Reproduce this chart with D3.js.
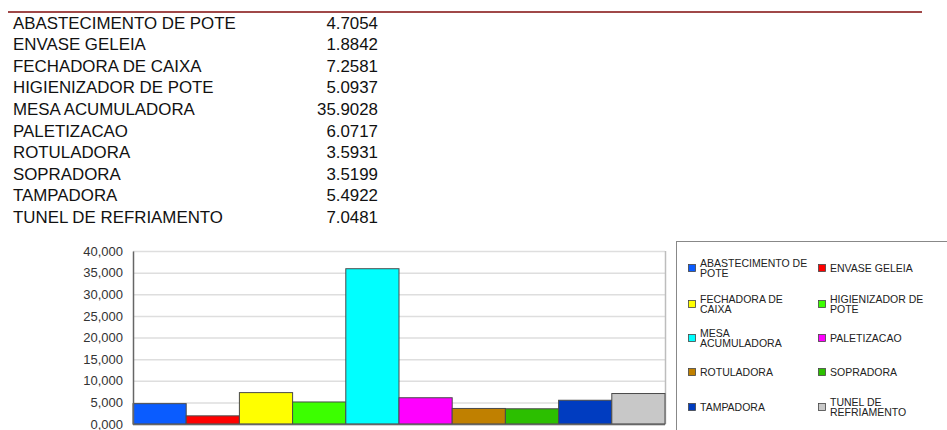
<!DOCTYPE html>
<html>
<head>
<meta charset="utf-8">
<script src="https://cdn.jsdelivr.net/npm/d3@7/dist/d3.min.js"></script>
<style>
  html, body { margin: 0; padding: 0; background: #fff; }
  svg { display: block; font-family: "Liberation Sans", Arial, sans-serif; }
</style>
</head>
<body>
<svg id="chart" width="947" height="430"></svg>
<script>
// Downtime per machine (values in thousands)
const categories = [
  "ABASTECIMENTO DE POTE", "ENVASE GELEIA", "FECHADORA DE CAIXA",
  "HIGIENIZADOR DE POTE", "MESA ACUMULADORA", "PALETIZACAO",
  "ROTULADORA", "SOPRADORA", "TAMPADORA", "TUNEL DE REFRIAMENTO"
];
const values = [4.7054, 1.8842, 7.2581, 5.0937, 35.9028, 6.0717, 3.5931, 3.5199, 5.4922, 7.0481];
const colors = ["#0a5cff", "#ff0000", "#ffff00", "#3cff00", "#00ffff",
                "#ff00ff", "#c08000", "#2cbf00", "#003cc0", "#c8c8c8"];
const yTicks = [0, 5, 10, 15, 20, 25, 30, 35, 40];
// Legend labels wrapped as they appear in the legend box
const legendLines = [
  ["ABASTECIMENTO DE", "POTE"], ["ENVASE GELEIA"],
  ["FECHADORA DE", "CAIXA"], ["HIGIENIZADOR DE", "POTE"],
  ["MESA", "ACUMULADORA"], ["PALETIZACAO"],
  ["ROTULADORA"], ["SOPRADORA"],
  ["TAMPADORA"], ["TUNEL DE", "REFRIAMENTO"]
];

const svg = d3.select("#chart");

// Header rule
svg.append("line")
  .attr("x1", 8).attr("x2", 922).attr("y1", 12).attr("y2", 12)
  .attr("stroke", "#a04848").attr("stroke-width", 2);

// Value table (slightly wide lettering)
const sx = 1.055;
const rowY = d3.scaleBand().domain(categories).range([12, 228]);
const table = svg.append("g").attr("font-size", 16).attr("fill", "#111")
  .attr("transform", `scale(${sx},1)`);
table.selectAll("text.name").data(categories).join("text")
  .attr("class", "name")
  .attr("x", 13 / sx)
  .attr("y", d => rowY(d) + rowY.bandwidth() / 2)
  .attr("dy", "0.36em")
  .text(d => d);
table.selectAll("text.val").data(values).join("text")
  .attr("class", "val")
  .attr("x", 378 / sx)
  .attr("text-anchor", "end")
  .attr("y", (d, i) => rowY(categories[i]) + rowY.bandwidth() / 2)
  .attr("dy", "0.36em")
  .text(d => d.toFixed(4));

// Bar chart
const plot = { left: 133, right: 665, top: 251, bottom: 424 };
const x = d3.scaleBand().domain(categories).range([plot.left, plot.right]).padding(0);
const y = d3.scaleLinear().domain([0, 40]).range([plot.bottom, plot.top]);
const fmt = d => d3.format(",.3f")(d).replace(".", ",");

svg.append("g")
  .selectAll("line").data(yTicks).join("line")
  .attr("x1", plot.left).attr("x2", plot.right)
  .attr("y1", d => y(d) + 0.5).attr("y2", d => y(d) + 0.5)
  .attr("stroke", "#dedede").attr("stroke-width", 1.5);

svg.append("line")
  .attr("x1", plot.right + 0.5).attr("x2", plot.right + 0.5)
  .attr("y1", plot.top).attr("y2", plot.bottom)
  .attr("stroke", "#bdbdbd").attr("stroke-width", 1.5);

svg.append("g")
  .selectAll("rect").data(values).join("rect")
  .attr("x", (d, i) => x(categories[i]))
  .attr("y", d => y(d))
  .attr("width", x.bandwidth())
  .attr("height", d => y(0) - y(d))
  .attr("fill", (d, i) => colors[i])
  .attr("stroke", "#4a4a4a").attr("stroke-width", 1);

const yAxis = svg.append("g")
  .attr("transform", `translate(${plot.left},0)`)
  .call(d3.axisLeft(y).tickValues(yTicks).tickFormat(fmt).tickSize(0).tickPadding(10));
yAxis.select(".domain").attr("stroke", "#666").attr("stroke-width", 1.5);
yAxis.selectAll("text").attr("font-size", 13).attr("fill", "#333")
  .attr("font-family", "'Liberation Sans', Arial, sans-serif");

svg.append("line")
  .attr("x1", plot.left).attr("x2", plot.right)
  .attr("y1", plot.bottom + 0.5).attr("y2", plot.bottom + 0.5)
  .attr("stroke", "#666").attr("stroke-width", 1.5);

// Legend
svg.append("rect")
  .attr("x", 676.5).attr("y", 241.5).attr("width", 290).attr("height", 200)
  .attr("fill", "#fff").attr("stroke", "#888").attr("stroke-width", 1);

const colX = [688, 818];
const rowCY = [268, 304, 338, 372, 407];
const lg = svg.append("g").attr("font-size", 10.5).attr("fill", "#222");
const items = lg.selectAll("g").data(categories).join("g")
  .attr("transform", (d, i) => `translate(${colX[i % 2]},${rowCY[Math.floor(i / 2)]})`);
items.append("rect")
  .attr("x", 0.5).attr("y", -3.5).attr("width", 7).attr("height", 7)
  .attr("fill", (d, i) => colors[i]).attr("stroke", "#444").attr("stroke-width", 0.8);
items.each(function (d, i) {
  const lines = legendLines[i];
  const g = d3.select(this);
  const lh = 10.5;
  const start = -(lines.length - 1) * lh / 2;
  lines.forEach((t, k) => {
    g.append("text").attr("x", 12).attr("y", start + k * lh).attr("dy", "0.36em").text(t);
  });
});
</script>
</body>
</html>
